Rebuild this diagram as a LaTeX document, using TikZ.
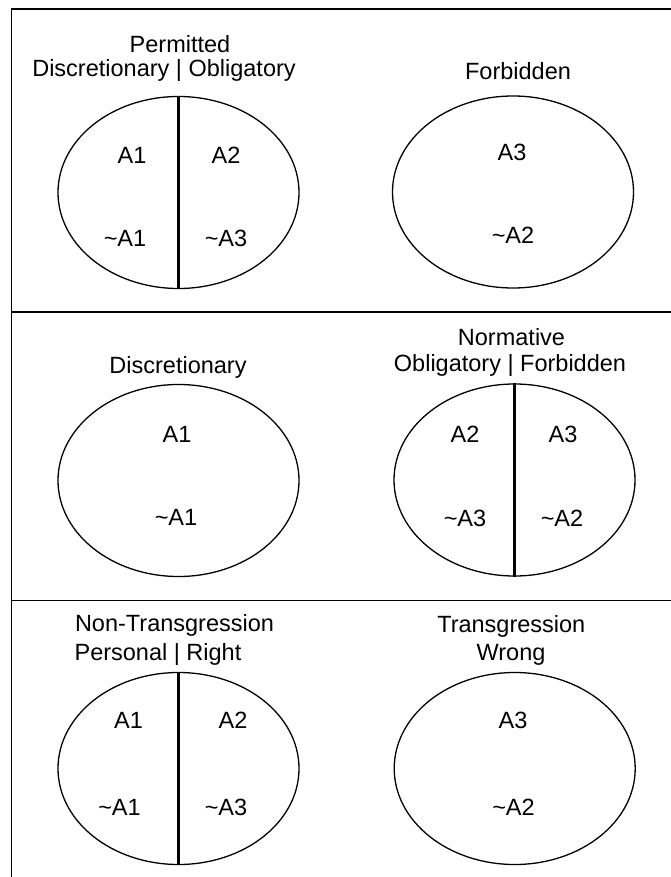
\documentclass[tikz,border=0pt]{standalone}
\usepackage{fontspec}
\setmainfont{Liberation Sans}
\usetikzlibrary{shapes.geometric}
\begin{document}
\begin{tikzpicture}[x=1pt,y=-1pt,
  oval/.style={ellipse,draw,line width=1.3pt,minimum width=241pt,minimum height=192pt,inner sep=0pt},
  split/.style={line width=3.2pt},
  frame/.style={line width=1.8pt},
  lbl/.style={anchor=base,inner sep=0pt,font=\fontsize{23.5}{25}\selectfont}]
\useasboundingbox (0,0) rectangle (671,877);
% frame
\coordinate (tl) at (11.5,9);
\coordinate (tr) at (671,9);
\coordinate (bl) at (11.5,877);
\coordinate (d1l) at (11.5,312);
\coordinate (d1r) at (671,312);
\coordinate (d2l) at (11.5,600.5);
\coordinate (d2r) at (671,600.5);
\draw[frame] (tr) -- (tl) -- (bl);
\draw[frame] (d1l) -- (d1r);
\draw[frame] (d2l) -- (d2r);
% panel 1
\node[oval] (e1) at (178.5,192.5) {};
\draw[split] (e1.north) -- (e1.south);
\node[lbl] (t1a) at (180,53) {Permitted};
\node[lbl] (t1b) at (164,77) {Discretionary | Obligatory};
\node[lbl] (a11) at (132,163.4) {A1};
\node[lbl] (a12) at (226,163.4) {A2};
\node[lbl] (n11) at (125,246.6) {\textasciitilde A1};
\node[lbl] (n13) at (226,246.6) {\textasciitilde A3};
\node[oval] (e2) at (513,192) {};
\node[lbl] (t2) at (518,80) {Forbidden};
\node[lbl] (a23) at (512,161) {A3};
\node[lbl] (n22) at (513,243.5) {\textasciitilde A2};
% panel 2
\node[oval] (e3) at (178.5,480.5) {};
\node[lbl] (t3) at (178,373) {Discretionary};
\node[lbl] (a31) at (177,442.5) {A1};
\node[lbl] (n31) at (176,525) {\textasciitilde A1};
\node[oval] (e4) at (514.5,480) {};
\draw[split] (e4.north) -- (e4.south);
\node[lbl] (t4a) at (511.5,345) {Normative};
\node[lbl] (t4b) at (510,371) {Obligatory | Forbidden};
\node[lbl] (a42) at (465,442) {A2};
\node[lbl] (a43) at (563,442) {A3};
\node[lbl] (n43) at (465,526.5) {\textasciitilde A3};
\node[lbl] (n42) at (562,526.5) {\textasciitilde A2};
% panel 3
\node[oval] (e5) at (178.5,768.5) {};
\draw[split] (e5.north) -- (e5.south);
\node[lbl] (t5a) at (174.5,631.7) {Non-Transgression};
\node[lbl] (t5b) at (158,660) {Personal | Right};
\node[lbl] (a51) at (128.5,728.3) {A1};
\node[lbl] (a52) at (233,728.3) {A2};
\node[lbl] (n51) at (119.5,815) {\textasciitilde A1};
\node[lbl] (n53) at (226,815) {\textasciitilde A3};
\node[oval] (e6) at (514.7,768.5) {};
\node[lbl] (t6a) at (511.3,632) {Transgression};
\node[lbl] (t6b) at (511,660) {Wrong};
\node[lbl] (a63) at (513,728.3) {A3};
\node[lbl] (n62) at (513.5,815) {\textasciitilde A2};
\end{tikzpicture}
\end{document}
